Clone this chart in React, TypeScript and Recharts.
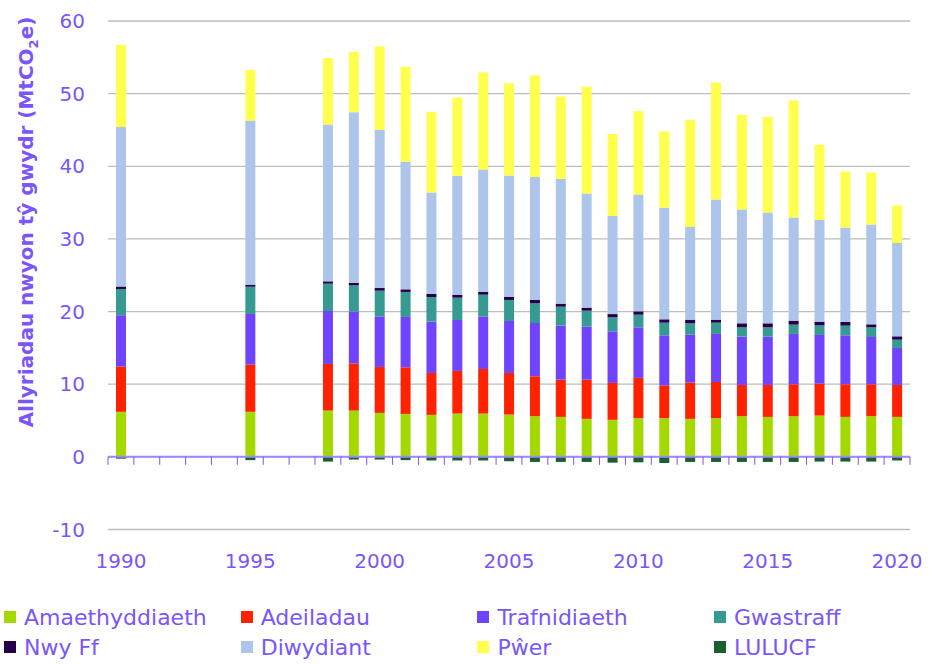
import React from 'react';
import { BarChart, Bar, XAxis, YAxis, CartesianGrid, ReferenceLine, Legend, Label } from 'recharts';

// ---- data ----
const YEARS = ['1990','1991','1992','1993','1994','1995','1996','1997','1998','1999','2000','2001','2002','2003','2004','2005','2006','2007','2008','2009','2010','2011','2012','2013','2014','2015','2016','2017','2018','2019','2020'];
const LABEL_YEARS = ['1990','1995','2000','2005','2010','2015','2020'];
const Y_TICKS = [-10, 0, 10, 20, 30, 40, 50, 60];

const amaethyddiaeth = [6.2,null,null,null,null,6.2,null,null,6.37,6.37,6.05,5.91,5.78,5.96,5.96,5.82,5.59,5.5,5.23,5.1,5.32,5.32,5.23,5.32,5.59,5.5,5.59,5.68,5.5,5.59,5.5];
const adeiladau = [6.25,null,null,null,null,6.5,null,null,6.42,6.5,6.33,6.42,5.77,5.87,6.14,5.73,5.5,5.13,5.4,5.08,5.55,4.53,4.99,4.99,4.31,4.4,4.4,4.4,4.49,4.4,4.4];
const trafnidiaeth = [7.05,null,null,null,null,6.97,null,null,7.29,7.12,6.96,6.93,7.06,7.01,7.24,7.15,7.34,7.43,7.29,7.1,6.96,6.88,6.6,6.61,6.65,6.65,6.93,6.7,6.74,6.51,5.09];
const gwastraff = [3.6,null,null,null,null,3.75,null,null,3.76,3.61,3.53,3.44,3.39,3.07,2.98,2.9,2.7,2.61,2.2,1.92,1.74,1.74,1.56,1.55,1.28,1.28,1.28,1.32,1.33,1.33,1.14];
const nwyFf = [0.35,null,null,null,null,0.28,null,null,0.32,0.33,0.37,0.36,0.42,0.41,0.42,0.45,0.46,0.42,0.42,0.45,0.46,0.46,0.51,0.42,0.55,0.55,0.55,0.51,0.51,0.41,0.46];
const diwydiant = [21.95,null,null,null,null,22.6,null,null,21.59,23.52,21.76,17.56,13.98,16.37,16.82,16.69,16.92,17.19,15.72,13.5,16.09,15.36,12.75,16.54,15.68,15.27,14.21,13.99,13.01,13.75,12.85];
const pwer = [11.3,null,null,null,null,6.97,null,null,9.15,8.3,11.5,13.07,11.1,10.77,13.34,12.7,14.0,11.32,14.68,11.3,11.47,10.5,14.76,16.1,13.02,13.12,16.09,10.36,7.7,7.16,5.17];
const lulucf = [-0.25,null,null,null,null,-0.45,null,null,-0.65,-0.37,-0.37,-0.45,-0.5,-0.5,-0.5,-0.6,-0.7,-0.7,-0.7,-0.8,-0.75,-0.85,-0.7,-0.7,-0.7,-0.7,-0.7,-0.65,-0.65,-0.65,-0.5];

const SERIES = [
  { key: 'amaethyddiaeth', name: 'Amaethyddiaeth', color: '#A3D900', values: amaethyddiaeth },
  { key: 'adeiladau', name: 'Adeiladau', color: '#FF2200', values: adeiladau },
  { key: 'trafnidiaeth', name: 'Trafnidiaeth', color: '#7044FF', values: trafnidiaeth },
  { key: 'gwastraff', name: 'Gwastraff', color: '#379A92', values: gwastraff },
  { key: 'nwyFf', name: 'Nwy Ff', color: '#25004A', values: nwyFf },
  { key: 'diwydiant', name: 'Diwydiant', color: '#ADC5EA', values: diwydiant },
  { key: 'pwer', name: 'Pŵer', color: '#FFFF4D', values: pwer },
  { key: 'lulucf', name: 'LULUCF', color: '#1B5E32', values: lulucf },
];

const data = YEARS.map((year, i) => {
  const row: Record<string, any> = { year };
  SERIES.forEach((s) => { row[s.key] = s.values[i]; });
  return row;
});

// ---- layout ----
const W = 935;
const H = 664;
const M_TOP = 21;
const M_RIGHT = 25;
const Y_AXIS_W = 108;
const LEGEND_H = 64;
const X_AXIS_H = 70.5;
const PLOT_LEFT = Y_AXIS_W;
const PLOT_RIGHT = W - M_RIGHT;
const PLOT_TOP = M_TOP;
const PLOT_BOTTOM = H - LEGEND_H - X_AXIS_H;
const Y_MIN = -10;
const Y_MAX = 60;
const ZERO_Y = PLOT_TOP + ((PLOT_BOTTOM - PLOT_TOP) * (Y_MAX - 0)) / (Y_MAX - Y_MIN);
const BAND = (PLOT_RIGHT - PLOT_LEFT) / YEARS.length;

const PURPLE = '#7A56F8';
const AXIS_PURPLE = '#9E88FF';
const FONT = '"DejaVu Sans", sans-serif';

const XTick = (props: any) => {
  const { x, y, payload, index } = props;
  const left = x - BAND / 2;
  const right = x + BAND / 2;
  return (
    <g>
      <line x1={left} x2={left} y1={ZERO_Y} y2={ZERO_Y + 8} stroke={PURPLE} strokeWidth={1} />
      {index === YEARS.length - 1 && (
        <line x1={right} x2={right} y1={ZERO_Y} y2={ZERO_Y + 8} stroke={PURPLE} strokeWidth={1} />
      )}
      {LABEL_YEARS.includes(String(payload.value)) && (
        <text x={x} y={y + 38} textAnchor="middle" fill={PURPLE} fontSize={20} fontFamily={FONT}>
          {payload.value}
        </text>
      )}
    </g>
  );
};

const YTitle = () => {
  const cx = 33;
  const cy = 222;
  return (
    <text
      x={cx}
      y={cy}
      transform={`rotate(-90, ${cx}, ${cy})`}
      textAnchor="middle"
      fill={PURPLE}
      fontSize={20}
      fontWeight="bold"
      fontFamily={FONT}
    >
      <tspan>Allyriadau nwyon tŷ gwydr (MtCO</tspan>
      <tspan fontSize={13} dy={5}>2</tspan>
      <tspan dy={-5}>e)</tspan>
    </text>
  );
};

const LegendContent = () => (
  <div
    style={{
      width: W,
      height: LEGEND_H,
      boxSizing: 'border-box',
      paddingTop: 2,
      paddingLeft: 4,
      display: 'grid',
      gridTemplateColumns: 'repeat(4, 236.7px)',
      gridAutoRows: '30px',
      fontFamily: FONT,
      fontSize: 22,
      color: PURPLE,
    }}
  >
    {SERIES.map((s) => (
      <div key={s.key} style={{ display: 'flex', alignItems: 'center', whiteSpace: 'nowrap' }}>
        <span style={{ display: 'inline-block', width: 12, height: 12, background: s.color, marginRight: 8 }} />
        <span>{s.name}</span>
      </div>
    ))}
  </div>
);

export default function App() {
  return (
    <div style={{ position: 'absolute', left: 0, top: 0, width: W, height: H, background: '#fff' }}>
      <BarChart
        width={W}
        height={H}
        data={data}
        stackOffset="sign"
        barSize={10}
        margin={{ top: M_TOP, right: M_RIGHT, left: 0, bottom: 0 }}
      >
        <CartesianGrid vertical={false} stroke="#BDBDBD" strokeWidth={1.3} />
        <XAxis
          dataKey="year"
          interval={0}
          height={X_AXIS_H}
          axisLine={false}
          tickLine={false}
          tickSize={0}
          tickMargin={0}
          tick={<XTick />}
        />
        <YAxis
          type="number"
          domain={[Y_MIN, Y_MAX]}
          ticks={Y_TICKS}
          width={Y_AXIS_W}
          axisLine={false}
          tickLine={false}
          tickSize={0}
          tickMargin={23}
          tick={{ fill: PURPLE, fontSize: 20, fontFamily: FONT }}
        >
          <Label content={<YTitle />} />
        </YAxis>
        {SERIES.map((s) => (
          <Bar
            key={s.key}
            dataKey={s.key}
            name={s.name}
            stackId="a"
            fill={s.color}
            isAnimationActive={false}
          />
        ))}
        <ReferenceLine y={0} stroke={AXIS_PURPLE} strokeWidth={2} />
        <Legend verticalAlign="bottom" content={<LegendContent />} wrapperStyle={{ left: 0, bottom: 0, width: W }} />
      </BarChart>
    </div>
  );
}
